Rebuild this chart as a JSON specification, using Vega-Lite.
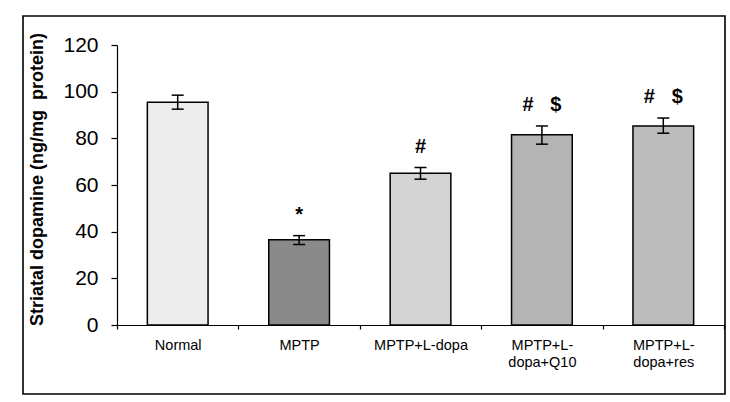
{
  "$schema": "https://vega.github.io/schema/vega-lite/v6.json",
  "width": 702,
  "height": 378,
  "autosize": {"type": "none"},
  "padding": {"left": 23, "top": 16, "right": 5, "bottom": 8},
  "background": "white",
  "config": {
    "font": "Liberation Sans",
    "view": {"stroke": "black", "strokeWidth": 1.6}
  },
  "data": {
    "values": [
      {"group": "Normal", "mean": 95.5, "lo": 92.5, "hi": 98.5, "sig": ""},
      {"group": "MPTP", "mean": 36.5, "lo": 34.5, "hi": 38.3, "sig": "*"},
      {"group": "MPTP+L-dopa", "mean": 65.0, "lo": 62.5, "hi": 67.5, "sig": "#"},
      {"group": "MPTP+L-dopa+Q10", "mean": 81.5, "lo": 77.5, "hi": 85.3, "sig": "#\u00a0\u00a0\u00a0$"},
      {"group": "MPTP+L-dopa+res", "mean": 85.3, "lo": 82.2, "hi": 88.7, "sig": "#\u00a0\u00a0\u00a0$"}
    ]
  },
  "encoding": {
    "x": {
      "field": "group",
      "type": "nominal",
      "sort": null,
      "scale": {"range": [94, 701], "paddingInner": 0, "paddingOuter": 0},
      "axis": {
        "title": null,
        "labelAngle": 0,
        "labelFontSize": 14.5,
        "labelColor": "black",
        "labelPadding": 9,
        "labelLineHeight": 17,
        "labelExpr": "length(datum.label) > 12 ? [slice(datum.label, 0, 7), slice(datum.label, 7)] : datum.label",
        "tickBand": "extent",
        "tickSize": 4,
        "tickColor": "black",
        "tickWidth": 1.2,
        "domainColor": "black",
        "domainWidth": 1.2,
        "offset": -69,
        "grid": false
      }
    }
  },
  "layer": [
    {
      "mark": {"type": "bar", "width": {"band": 0.5}, "stroke": "black", "strokeWidth": 1.5},
      "encoding": {
        "y": {
          "field": "mean",
          "type": "quantitative",
          "scale": {"domain": [0, 120], "range": [309, 29], "nice": false, "zero": true},
          "axis": {
            "title": "Striatal dopamine (ng/mg\u00a0 protein)",
            "titleFontSize": 18,
            "titleFontWeight": "bold",
            "titleColor": "black",
            "titleX": -80,
            "titleY": 163,
            "titleBaseline": "middle",
            "values": [0, 20, 40, 60, 80, 100, 120],
            "offset": -94,
            "grid": false,
            "domainColor": "black",
            "domainWidth": 1.2,
            "tickColor": "black",
            "tickSize": 6,
            "tickWidth": 1.2,
            "labelFontSize": 21,
            "labelColor": "black",
            "labelPadding": 13
          }
        },
        "color": {
          "field": "group",
          "type": "nominal",
          "sort": null,
          "scale": {
            "domain": ["Normal", "MPTP", "MPTP+L-dopa", "MPTP+L-dopa+Q10", "MPTP+L-dopa+res"],
            "range": ["#ececec", "#8a8a8a", "#d4d4d4", "#b4b4b4", "#bcbcbc"]
          },
          "legend": null
        }
      }
    },
    {
      "mark": {"type": "rule", "color": "black", "strokeWidth": 1.5},
      "encoding": {
        "y": {"field": "lo", "type": "quantitative"},
        "y2": {"field": "hi"}
      }
    },
    {
      "mark": {"type": "tick", "orient": "horizontal", "size": 12, "thickness": 1.5, "color": "black", "opacity": 1},
      "encoding": {"y": {"field": "lo", "type": "quantitative"}}
    },
    {
      "mark": {"type": "tick", "orient": "horizontal", "size": 12, "thickness": 1.5, "color": "black", "opacity": 1},
      "encoding": {"y": {"field": "hi", "type": "quantitative"}}
    },
    {
      "mark": {"type": "text", "dy": -21, "fontSize": 20, "fontWeight": "bold", "color": "black", "baseline": "middle"},
      "encoding": {
        "y": {"field": "hi", "type": "quantitative"},
        "text": {"field": "sig"}
      }
    }
  ]
}
